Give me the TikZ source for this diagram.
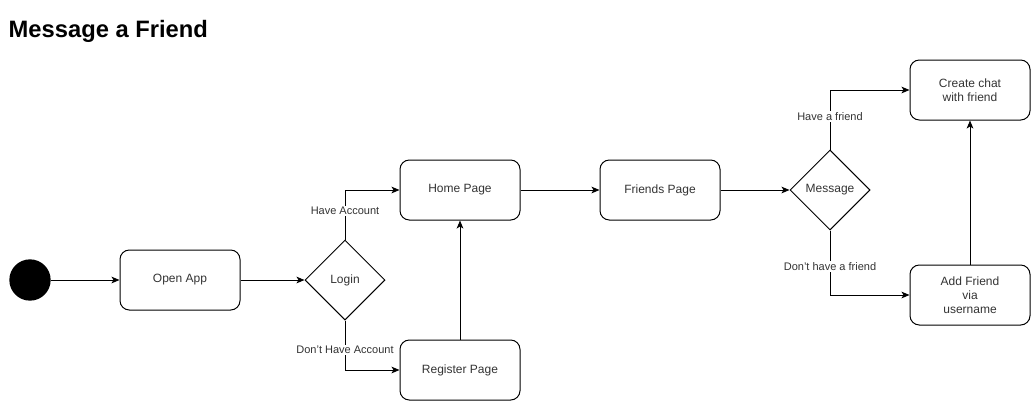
\documentclass[tikz,border=0pt]{standalone}
\usepackage{fontspec}
\setmainfont{Liberation Sans}
\usetikzlibrary{shapes.geometric,arrows.meta}
\begin{document}
\begin{tikzpicture}[x=0.75pt,y=-0.75pt,
  every node/.style={font=\fontsize{9}{10.5}\selectfont, text=black!80},
  box/.style={draw, line width=0.75pt, rounded corners=7pt, minimum width=90pt, minimum height=45pt, align=center, inner sep=0pt},
  decision/.style={draw, line width=0.75pt, diamond, minimum width=60pt, minimum height=60pt, inner sep=0pt, aspect=1},
  startdot/.style={circle, fill=black, minimum size=31pt, inner sep=0pt},
  flow/.style={line width=0.75pt, -{Stealth[length=6pt,width=5pt,inset=1.5pt]}},
  lbl/.style={fill=white, inner sep=1pt, font=\fontsize{8.25}{9.5}\selectfont}]
  \useasboundingbox (0,0) rectangle (1031,401);

  \node[anchor=west, font=\bfseries\fontsize{17.8}{20}\selectfont, text=black] (title) at (4,31) {Message a Friend};

  \node[startdot] (start) at (30,280) {};
  \node[box] (open) at (180,280) {Open App};
  \node[decision] (login) at (345,280) {Login};
  \node[box] (home) at (460,190) {Home Page};
  \node[box] (register) at (460,370) {Register Page};
  \node[box] (friends) at (660,190) {Friends Page};
  \node[decision] (message) at (830,190) {Message};
  \node[box] (chat) at (970,90) {Create chat\\with friend};
  \node[box] (add) at (970,295) {Add Friend\\via\\username};

  \draw[flow] (start) -- (open);
  \draw[flow] (open) -- (login);
  \draw[flow] (login.north) |- node[lbl, pos=0.29] {Have Account} (home.west);
  \draw[flow] (login.south) |- node[lbl, pos=0.3] {Don't Have Account} (register.west);
  \draw[flow] (register) -- (home);
  \draw[flow] (home) -- (friends);
  \draw[flow] (friends) -- (message);
  \draw[flow] (message.north) |- node[lbl, pos=0.28] {Have a friend} (chat.west);
  \draw[flow] (message.south) |- node[lbl, pos=0.28] {Don't have a friend} (add.west);
  \draw[flow] (add) -- (chat);
\end{tikzpicture}
\end{document}
